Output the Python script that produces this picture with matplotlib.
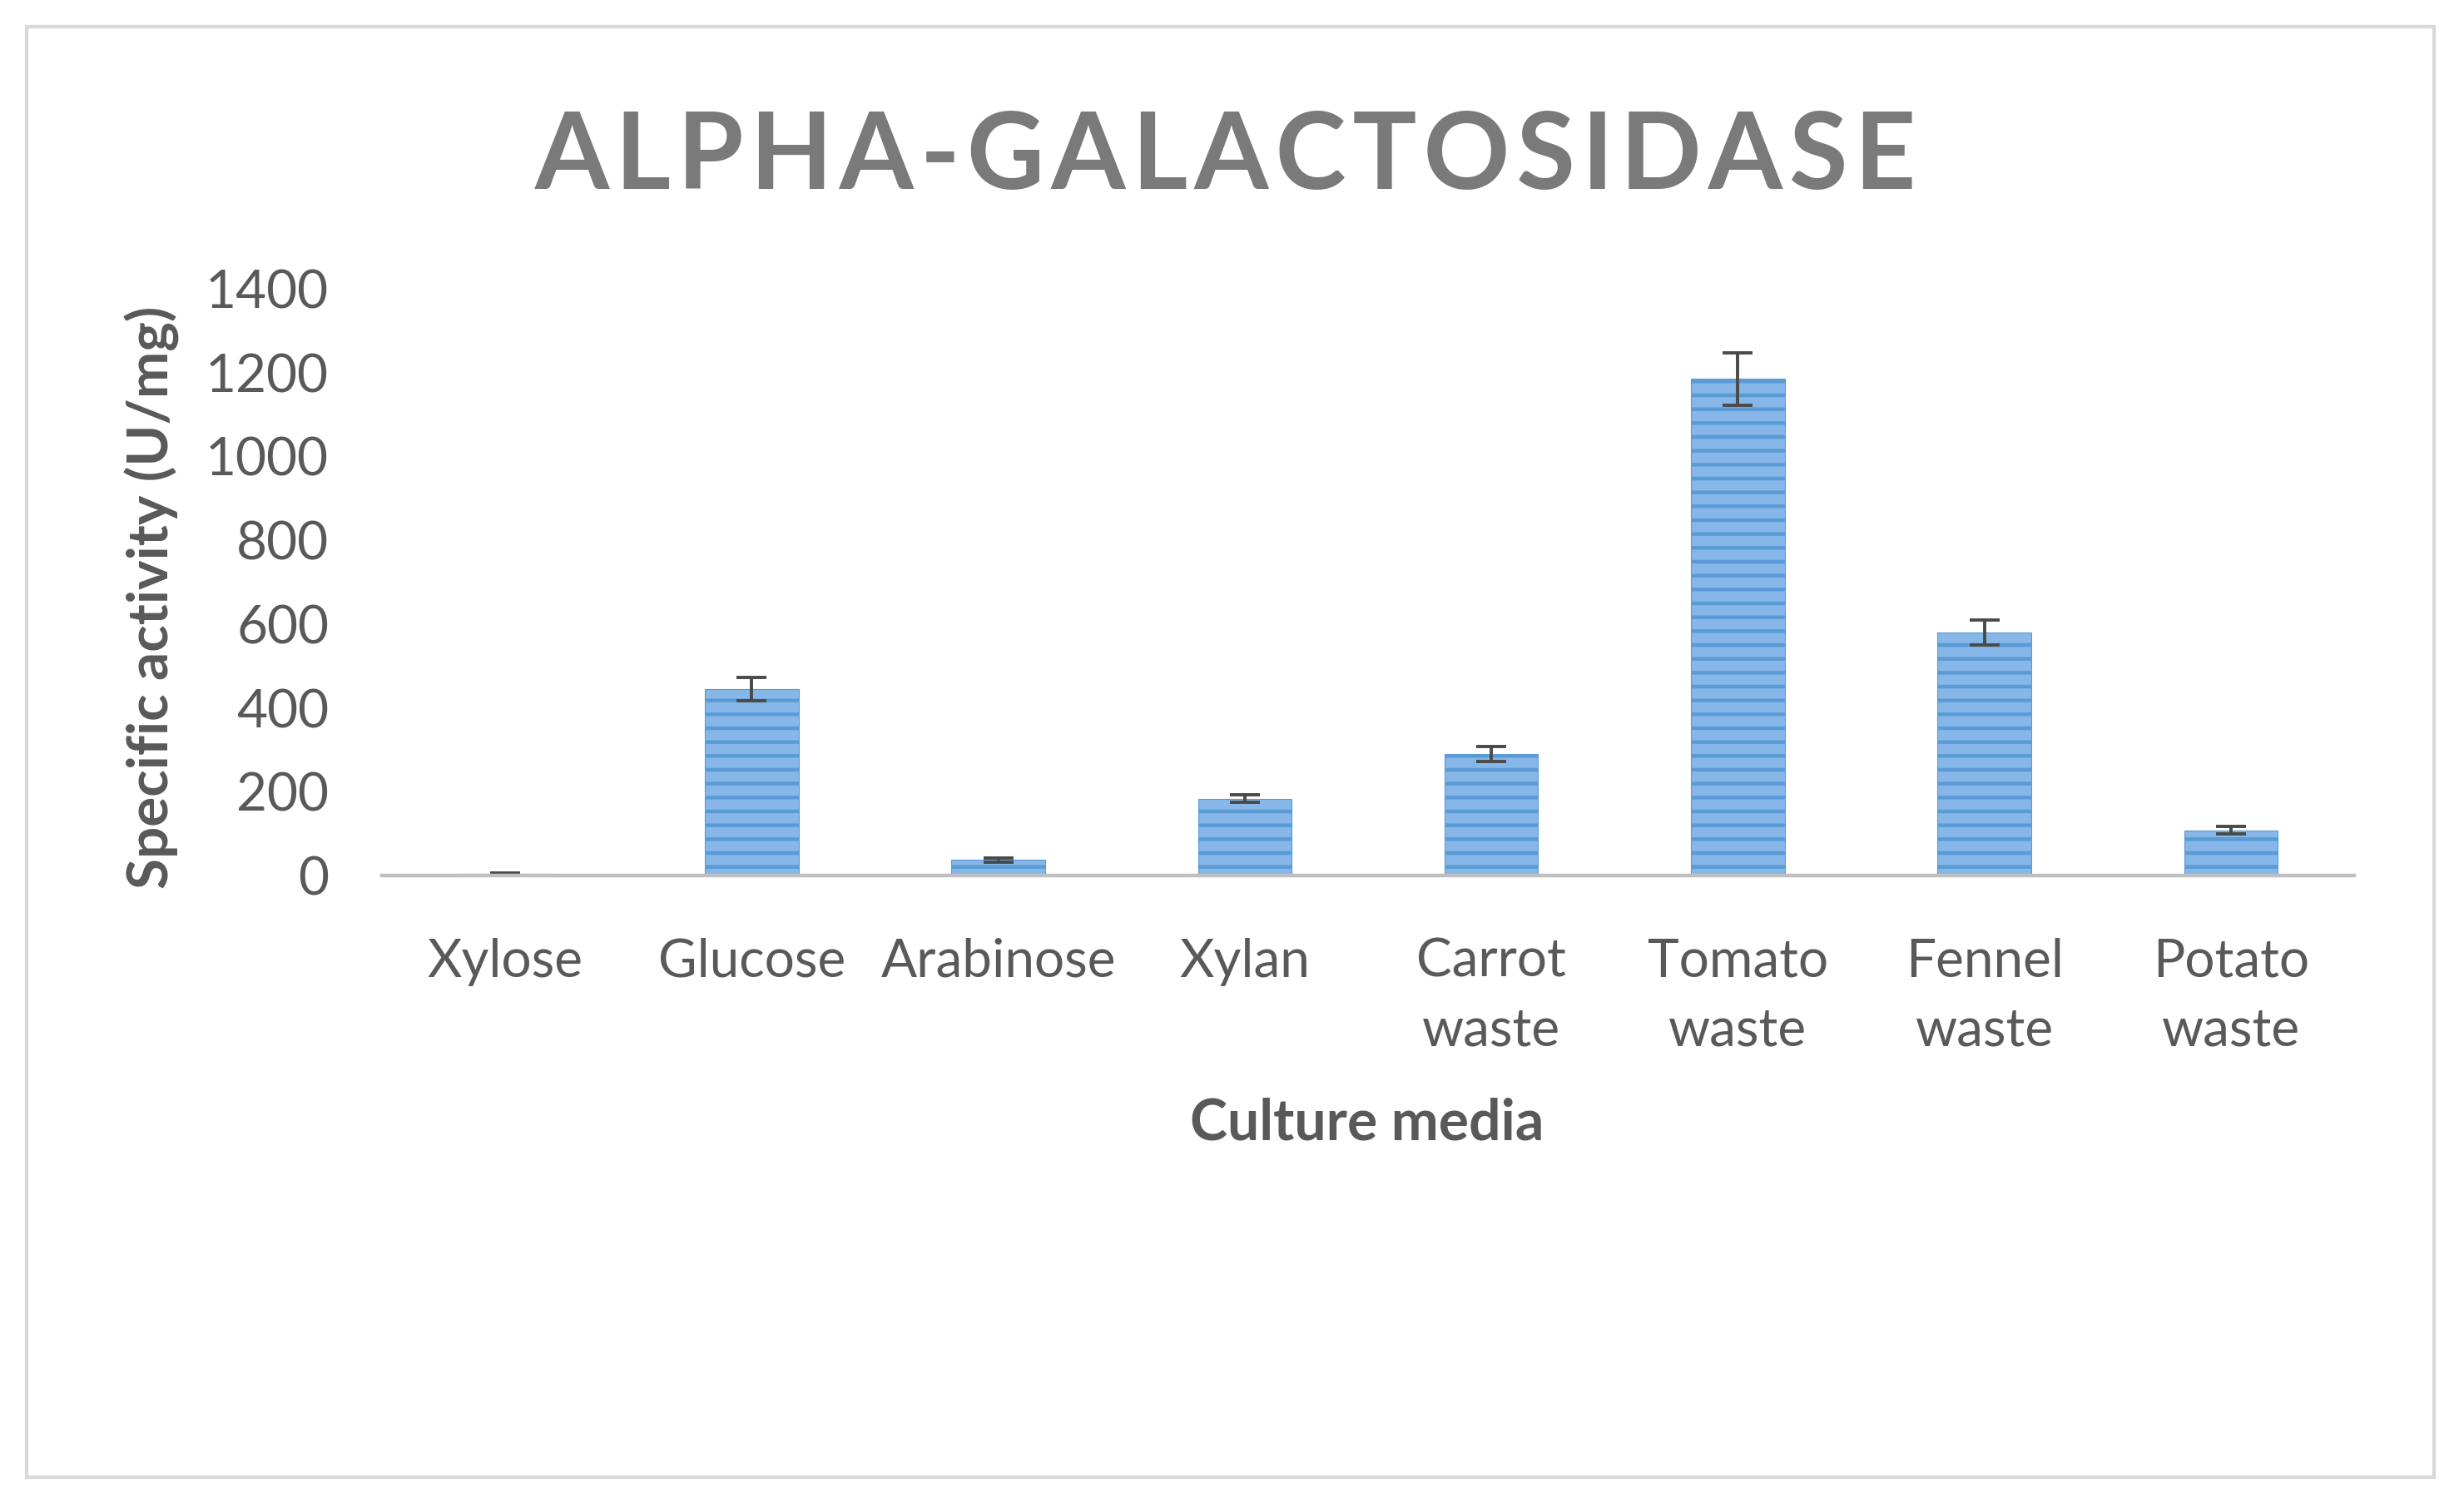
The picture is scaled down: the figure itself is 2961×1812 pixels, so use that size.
import matplotlib
matplotlib.use("Agg")
import matplotlib.pyplot as plt
from matplotlib.patches import Rectangle

categories = ["Xylose", "Glucose", "Arabinose", "Xylan", "Carrot\nwaste",
              "Tomato\nwaste", "Fennel\nwaste", "Potato\nwaste"]
values = [3, 445, 37, 183, 290, 1185, 580, 108]
errors = [3, 27, 5, 9, 17, 63, 30, 9]
yticks = [0, 200, 400, 600, 800, 1000, 1200, 1400]
title = "ALPHA-GALACTOSIDASE"

W, H, DPI = 2961, 1812, 100
plt.rcParams['font.family'] = ['Lato', 'DejaVu Sans']
plt.rcParams['hatch.linewidth'] = 3.2
plt.rcParams['hatch.color'] = '#3F7FCB'

fig = plt.figure(figsize=(W / DPI, H / DPI), dpi=DPI)
fig.patch.set_facecolor('white')

# outer frame
fig.patches.append(Rectangle((32 / W, 1 - 1775 / H), (2925 - 32) / W, (1775 - 32) / H,
                             transform=fig.transFigure, fill=False,
                             edgecolor='#D9D9D9', linewidth=3))

ax = fig.add_axes([459 / W, 1 - 1052 / H, (2829 - 459) / W, (1052 - 347) / H])
x = list(range(len(categories)))
ax.bar(x, values, width=0.38, color='#86B7E8', edgecolor='#5B9BD5',
       linewidth=0.8, hatch='-', zorder=2)
ax.errorbar(x, values, yerr=errors, fmt='none', ecolor='#4A4A4A',
            elinewidth=2.8, capsize=13, capthick=2.8, zorder=3)

ax.set_xlim(-0.5, len(categories) - 0.5)
ax.set_ylim(0, 1400)
ax.set_yticks(yticks)
ax.set_yticklabels([str(v) for v in yticks])
ax.set_xticks(x)
ax.set_xticklabels(categories, linespacing=1.52)
ax.tick_params(axis='both', length=0, labelsize=46, labelcolor='#595959')
ax.tick_params(axis='y', pad=46)
ax.tick_params(axis='x', pad=54)
for s in ['top', 'right', 'left']:
    ax.spines[s].set_visible(False)
ax.spines['bottom'].set_color('#BFBFBF')
ax.spines['bottom'].set_linewidth(3.2)
ax.spines['bottom'].set_zorder(4)

fig.text(1643 / W, 1 - 1350 / H, "Culture media", ha='center', va='center',
         fontsize=49, fontweight='bold', color='#595959')
fig.text(183 / W, 1 - 718 / H, "Specific activity (U/mg)", ha='center', va='center',
         rotation=90, fontsize=48.5, fontweight='bold', color='#595959')
spaced_title = "\u200a".join(title)
fig.text(1473 / W, 1 - 190 / H, spaced_title, ha='center', va='center',
         fontsize=92.5, fontweight='bold', color='#7A7A7A')

fig.savefig("out.png", dpi=DPI)
